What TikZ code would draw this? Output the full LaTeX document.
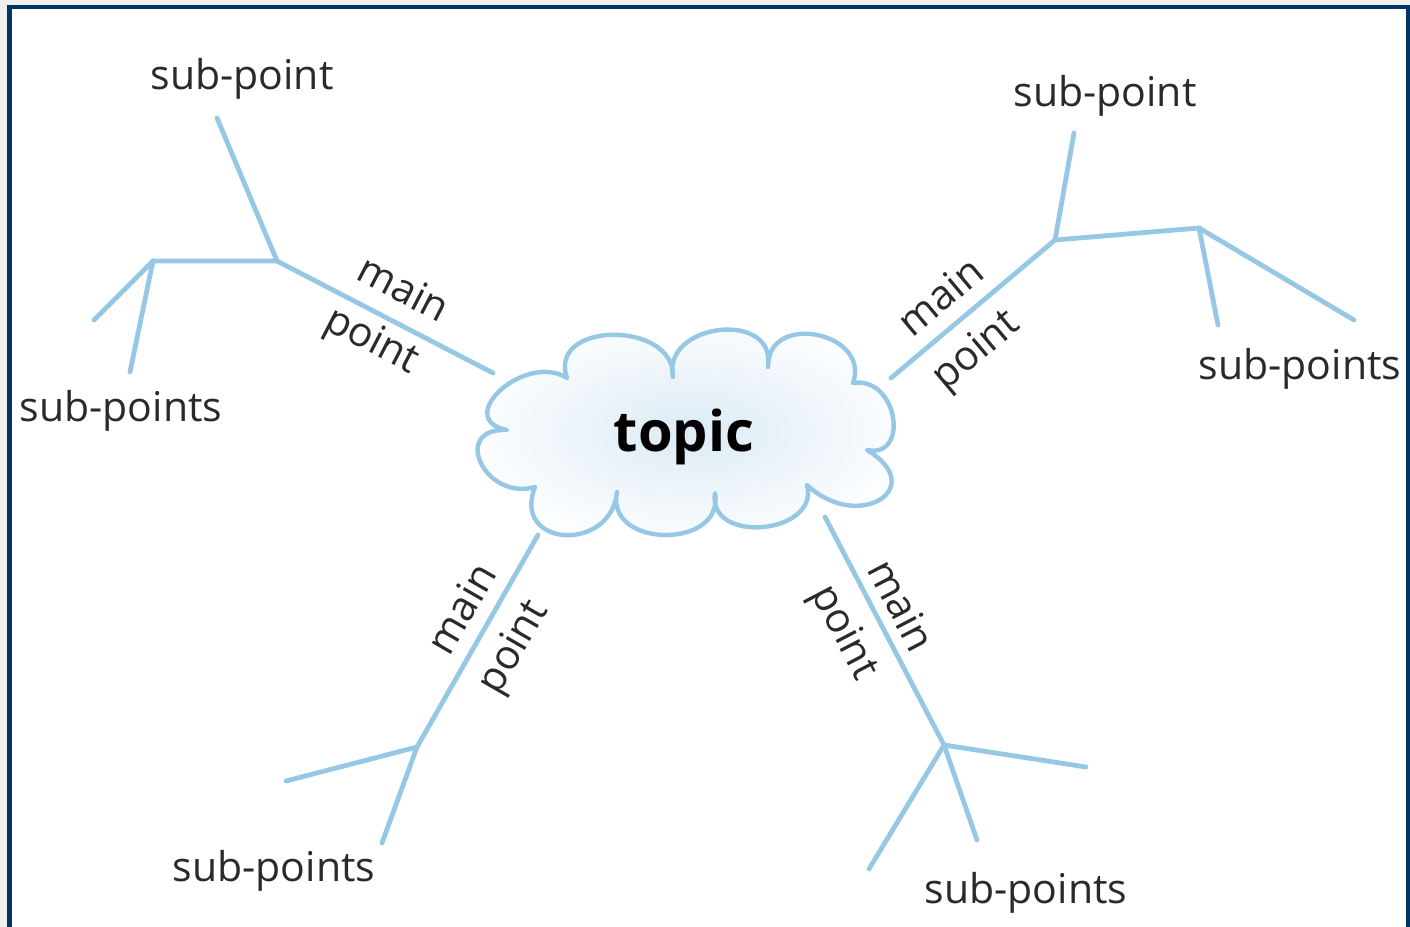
\documentclass[tikz,border=0pt]{standalone}
\usepackage{fontspec}
\setmainfont{Open Sans}
\definecolor{branch}{HTML}{96C7E4}
\definecolor{frameblue}{HTML}{003366}
\definecolor{bggray}{HTML}{F0F0F0}
\definecolor{inkgray}{HTML}{2A2A2A}
\definecolor{cloudin}{HTML}{DCEBF5}
\tikzset{
  line/.style={draw=branch, line width=2.4pt, line cap=round},
  lbl/.style={text=inkgray, font=\fontsize{20.5}{22}\selectfont, inner sep=0pt},
  toptext/.style={text=black, font=\fontsize{28}{30}\selectfont\bfseries, inner sep=0pt},
}
\begin{document}
\begin{tikzpicture}[x=0.5pt,y=-0.5pt]
\useasboundingbox (0,0) rectangle (1410,927);
\fill[bggray] (0,0) rectangle (1410,927);
\fill[white] (9.5,7.2) rectangle (1408.5,930);
\draw[frameblue, line width=2.15pt] (9.5,935) -- (9.5,7.2) -- (1408.5,7.2) -- (1408.5,935);

% cloud
\path[draw=branch, line width=2.2pt, line join=round, inner color=cloudin, outer color=white]
  (567,378) .. controls (547,321) and (675,320) .. (673,377)
  .. controls (662,322.5) and (777,309.5) .. (768,367)
  .. controls (767,311) and (871,332) .. (853,383)
  .. controls (898,376) and (910,459) .. (867,450)
  .. controls (930,488) and (858,533) .. (807,485)
  .. controls (820,534.5) and (707,545) .. (715,493)
  .. controls (725,549.7) and (605,548.7) .. (617,492)
  .. controls (611,553.5) and (511,547) .. (535,487)
  .. controls (485,501.6) and (450,427.4) .. (507,430)
  .. controls (452,419) and (525,351.5) .. cycle;
\node[toptext] (topic) at (684,437) {topic};

% top-left branch
\coordinate (tlA) at (493,373);
\coordinate (tlB) at (277,261);
\coordinate (tlC) at (217,118);
\coordinate (tlD) at (153,261);
\coordinate (tlE) at (94,320);
\coordinate (tlF) at (130,372);
\draw[line] (tlA) -- (tlB) -- (tlC);
\draw[line] (tlB) -- (tlD) -- (tlE);
\draw[line] (tlD) -- (tlF);
\node[lbl, rotate=-27.4] (tlmain) at (404,288) {main};
\node[lbl, rotate=-27.4] (tlpoint) at (371,342) {point};
\node[lbl] (tlsub) at (242,79) {sub-point};
\node[lbl] (tlsubs) at (121,411) {sub-points};

% top-right branch
\coordinate (trA) at (891,378);
\coordinate (trB) at (1055,240);
\coordinate (trC) at (1074,133);
\coordinate (trD) at (1199,228);
\coordinate (trE) at (1218,325);
\coordinate (trF) at (1354,320);
\draw[line] (trA) -- (trB) -- (trC);
\draw[line] (trB) -- (trD) -- (trE);
\draw[line] (trD) -- (trF);
\node[lbl, rotate=40] (trmain) at (940,296) {main};
\node[lbl, rotate=40] (trpoint) at (977,352) {point};
\node[lbl] (trsub) at (1105,96) {sub-point};
\node[lbl] (trsubs) at (1300,369) {sub-points};

% bottom-left branch
\coordinate (blA) at (538,535);
\coordinate (blB) at (417,747);
\coordinate (blC) at (286,781);
\coordinate (blD) at (382,843);
\draw[line] (blA) -- (blB) -- (blC);
\draw[line] (blB) -- (blD);
\node[lbl, rotate=60] (blmain) at (461,608) {main};
\node[lbl, rotate=60] (blpoint) at (515,648) {point};
\node[lbl] (blsubs) at (274,871) {sub-points};

% bottom-right branch
\coordinate (brA) at (825,517);
\coordinate (brB) at (944,745);
\coordinate (brC) at (1086,767);
\coordinate (brD) at (977,840);
\coordinate (brE) at (869,869);
\draw[line] (brA) -- (brB) -- (brC);
\draw[line] (brB) -- (brD);
\draw[line] (brB) -- (brE);
\node[lbl, rotate=-62.4] (brmain) at (902,605) {main};
\node[lbl, rotate=-62.4] (brpoint) at (843,633) {point};
\node[lbl] (brsubs) at (1026,893) {sub-points};
\end{tikzpicture}
\end{document}
